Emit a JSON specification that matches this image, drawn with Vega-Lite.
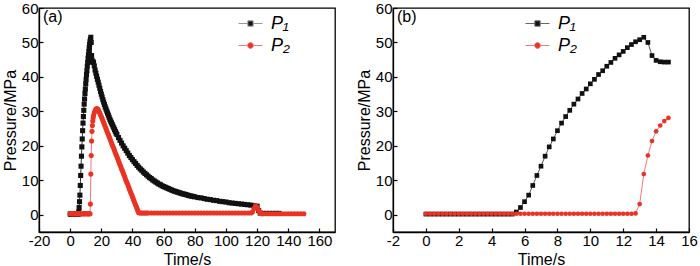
{
"$schema": "https://vega.github.io/schema/vega-lite/v6.json",
"background": "white",
"padding": {"left": 1, "top": 0, "right": 2, "bottom": 0},
"bounds": "flush",
"spacing": 58,
"config": {
  "font": "Liberation Sans",
  "view": {"stroke": "#000", "strokeWidth": 1.3},
  "axis": {"grid": false, "domainColor": "#000", "domainWidth": 1.3, "tickColor": "#000", "tickSize": -4, "tickWidth": 1.2, "labelFont": "Liberation Sans", "labelFontSize": 15, "labelColor": "#000", "labelPadding": 5, "labelOverlap": false, "labelFlush": false, "titleFont": "Liberation Sans", "titleFontSize": 16, "titleFontWeight": "normal", "titleColor": "#000", "titlePadding": 3},
  "legend": {"title": null, "orient": "none", "symbolSize": 576, "symbolStrokeWidth": 1, "symbolOpacity": 1, "labelFont": "Liberation Sans", "labelFontSize": 18, "labelFontStyle": "italic", "labelColor": "#000", "labelOffset": 8, "rowPadding": 0},
  "title": {"anchor": "start", "frame": "group", "font": "Liberation Sans", "fontSize": 16, "fontWeight": "normal", "color": "#000"}
},
"datasets": {
"a": [
{"t":0,"p":0.2,"s":"P1"},{"t":0.5,"p":0.2,"s":"P1"},{"t":1,"p":0.2,"s":"P1"},{"t":1.5,"p":0.2,"s":"P1"},{"t":2,"p":0.2,"s":"P1"},{"t":2.5,"p":0.2,"s":"P1"},{"t":3,"p":0.2,"s":"P1"},{"t":3.5,"p":0.2,"s":"P1"},{"t":4,"p":0.2,"s":"P1"},{"t":4.5,"p":0.2,"s":"P1"},{"t":5,"p":0.2,"s":"P1"},{"t":5.25,"p":0.2,"s":"P1"},
{"t":5.5,"p":0.8,"s":"P1"},{"t":5.75,"p":2.1,"s":"P1"},{"t":6,"p":3.8,"s":"P1"},{"t":6.25,"p":5.7,"s":"P1"},{"t":6.5,"p":8.5,"s":"P1"},{"t":6.75,"p":11.4,"s":"P1"},{"t":7,"p":14.1,"s":"P1"},{"t":7.25,"p":17.0,"s":"P1"},{"t":7.5,"p":19.7,"s":"P1"},{"t":7.75,"p":22.0,"s":"P1"},{"t":8,"p":24.4,"s":"P1"},{"t":8.25,"p":26.6,"s":"P1"},{"t":8.5,"p":28.5,"s":"P1"},{"t":8.75,"p":30.3,"s":"P1"},{"t":9,"p":32.1,"s":"P1"},{"t":9.25,"p":33.6,"s":"P1"},{"t":9.5,"p":35.2,"s":"P1"},{"t":9.75,"p":36.5,"s":"P1"},{"t":10,"p":38.0,"s":"P1"},{"t":10.25,"p":39.3,"s":"P1"},{"t":10.5,"p":40.7,"s":"P1"},{"t":10.75,"p":41.8,"s":"P1"},{"t":11,"p":43.1,"s":"P1"},{"t":11.25,"p":44.2,"s":"P1"},{"t":11.5,"p":45.4,"s":"P1"},{"t":11.75,"p":46.4,"s":"P1"},{"t":12,"p":47.4,"s":"P1"},{"t":12.25,"p":48.5,"s":"P1"},{"t":12.5,"p":49.4,"s":"P1"},{"t":12.75,"p":50.2,"s":"P1"},{"t":13,"p":50.8,"s":"P1"},{"t":13.25,"p":51.5,"s":"P1"},{"t":13.5,"p":50.0,"s":"P1"},{"t":13.75,"p":46.2,"s":"P1"},{"t":14,"p":44.8,"s":"P1"},{"t":14.25,"p":44.4,"s":"P1"},{"t":14.5,"p":44.3,"s":"P1"},{"t":14.75,"p":44.3,"s":"P1"},
{"t":15,"p":44.2,"s":"P1"},{"t":15.5,"p":43.2,"s":"P1"},{"t":16,"p":42.0,"s":"P1"},{"t":16.5,"p":41.1,"s":"P1"},{"t":17,"p":40.2,"s":"P1"},{"t":17.5,"p":39.3,"s":"P1"},{"t":18,"p":38.5,"s":"P1"},{"t":18.5,"p":37.6,"s":"P1"},{"t":19,"p":36.7,"s":"P1"},{"t":19.5,"p":35.8,"s":"P1"},{"t":20,"p":35.0,"s":"P1"},{"t":20.5,"p":34.2,"s":"P1"},{"t":21,"p":33.4,"s":"P1"},{"t":21.5,"p":32.7,"s":"P1"},{"t":22,"p":32.0,"s":"P1"},{"t":22.5,"p":31.3,"s":"P1"},{"t":23,"p":30.7,"s":"P1"},{"t":23.5,"p":30.1,"s":"P1"},{"t":24,"p":29.5,"s":"P1"},{"t":24.5,"p":28.9,"s":"P1"},{"t":25,"p":28.3,"s":"P1"},{"t":25.5,"p":27.7,"s":"P1"},{"t":26,"p":27.2,"s":"P1"},{"t":26.5,"p":26.7,"s":"P1"},{"t":27,"p":26.2,"s":"P1"},{"t":27.5,"p":25.7,"s":"P1"},{"t":28,"p":25.2,"s":"P1"},{"t":28.5,"p":24.7,"s":"P1"},{"t":29,"p":24.2,"s":"P1"},{"t":29.5,"p":23.7,"s":"P1"},{"t":30,"p":23.3,"s":"P1"},{"t":31,"p":22.4,"s":"P1"},{"t":32,"p":21.6,"s":"P1"},{"t":33,"p":20.8,"s":"P1"},{"t":34,"p":20.0,"s":"P1"},{"t":35,"p":19.3,"s":"P1"},{"t":36,"p":18.6,"s":"P1"},{"t":37,"p":17.9,"s":"P1"},{"t":38,"p":17.2,"s":"P1"},{"t":39,"p":16.6,"s":"P1"},{"t":40,"p":16.0,"s":"P1"},{"t":41,"p":15.4,"s":"P1"},{"t":42,"p":14.9,"s":"P1"},{"t":43,"p":14.3,"s":"P1"},{"t":44,"p":13.8,"s":"P1"},{"t":45,"p":13.3,"s":"P1"},{"t":46,"p":12.9,"s":"P1"},{"t":47,"p":12.4,"s":"P1"},{"t":48,"p":12.0,"s":"P1"},{"t":49,"p":11.6,"s":"P1"},{"t":50,"p":11.2,"s":"P1"},{"t":51,"p":10.8,"s":"P1"},{"t":52,"p":10.5,"s":"P1"},{"t":53,"p":10.1,"s":"P1"},{"t":54,"p":9.8,"s":"P1"},{"t":55,"p":9.5,"s":"P1"},{"t":56,"p":9.2,"s":"P1"},{"t":57,"p":8.9,"s":"P1"},{"t":58,"p":8.7,"s":"P1"},{"t":59,"p":8.4,"s":"P1"},{"t":60,"p":8.2,"s":"P1"},
{"t":61,"p":8.0,"s":"P1"},{"t":62,"p":7.8,"s":"P1"},{"t":63,"p":7.6,"s":"P1"},{"t":64,"p":7.4,"s":"P1"},{"t":65,"p":7.2,"s":"P1"},{"t":66,"p":7.0,"s":"P1"},{"t":67,"p":6.85,"s":"P1"},{"t":68,"p":6.7,"s":"P1"},{"t":69,"p":6.55,"s":"P1"},{"t":70,"p":6.4,"s":"P1"},{"t":71,"p":6.25,"s":"P1"},{"t":72,"p":6.1,"s":"P1"},{"t":73,"p":6.0,"s":"P1"},{"t":74,"p":5.9,"s":"P1"},{"t":75,"p":5.75,"s":"P1"},{"t":76,"p":5.6,"s":"P1"},{"t":77,"p":5.5,"s":"P1"},{"t":78,"p":5.4,"s":"P1"},{"t":79,"p":5.3,"s":"P1"},{"t":80,"p":5.2,"s":"P1"},{"t":82,"p":5.0,"s":"P1"},{"t":84,"p":4.9,"s":"P1"},{"t":86,"p":4.7,"s":"P1"},{"t":88,"p":4.5,"s":"P1"},{"t":90,"p":4.4,"s":"P1"},{"t":92,"p":4.2,"s":"P1"},{"t":94,"p":4.1,"s":"P1"},{"t":96,"p":3.9,"s":"P1"},{"t":98,"p":3.8,"s":"P1"},{"t":100,"p":3.7,"s":"P1"},{"t":102,"p":3.5,"s":"P1"},{"t":104,"p":3.4,"s":"P1"},{"t":106,"p":3.3,"s":"P1"},{"t":108,"p":3.2,"s":"P1"},{"t":110,"p":3.1,"s":"P1"},{"t":112,"p":3.0,"s":"P1"},{"t":114,"p":2.9,"s":"P1"},{"t":116,"p":2.8,"s":"P1"},{"t":118,"p":2.6,"s":"P1"},{"t":120,"p":2.5,"s":"P1"},{"t":121,"p":1.2,"s":"P1"},{"t":122,"p":0.5,"s":"P1"},{"t":124,"p":0.4,"s":"P1"},{"t":126,"p":0.4,"s":"P1"},{"t":128,"p":0.4,"s":"P1"},{"t":130,"p":0.4,"s":"P1"},{"t":132,"p":0.4,"s":"P1"},{"t":134,"p":0.4,"s":"P1"},
{"t":0,"p":0.3,"s":"P2"},{"t":0.5,"p":0.3,"s":"P2"},{"t":1,"p":0.3,"s":"P2"},{"t":1.5,"p":0.3,"s":"P2"},{"t":2,"p":0.3,"s":"P2"},{"t":2.5,"p":0.3,"s":"P2"},{"t":3,"p":0.3,"s":"P2"},{"t":3.5,"p":0.3,"s":"P2"},{"t":4,"p":0.3,"s":"P2"},{"t":4.5,"p":0.3,"s":"P2"},{"t":5,"p":0.3,"s":"P2"},{"t":5.5,"p":0.3,"s":"P2"},{"t":6,"p":0.3,"s":"P2"},{"t":6.5,"p":0.3,"s":"P2"},{"t":7,"p":0.3,"s":"P2"},{"t":7.5,"p":0.3,"s":"P2"},{"t":8,"p":0.3,"s":"P2"},{"t":8.5,"p":0.3,"s":"P2"},{"t":9,"p":0.3,"s":"P2"},{"t":9.5,"p":0.3,"s":"P2"},{"t":10,"p":0.3,"s":"P2"},{"t":10.5,"p":0.3,"s":"P2"},{"t":11,"p":0.3,"s":"P2"},{"t":11.5,"p":0.3,"s":"P2"},{"t":12,"p":0.3,"s":"P2"},{"t":12.5,"p":0.3,"s":"P2"},{"t":12.75,"p":0.3,"s":"P2"},
{"t":13,"p":3.1,"s":"P2"},{"t":13.25,"p":11.8,"s":"P2"},{"t":13.5,"p":17.2,"s":"P2"},{"t":13.75,"p":21.4,"s":"P2"},{"t":14,"p":24.2,"s":"P2"},{"t":14.25,"p":25.9,"s":"P2"},{"t":14.5,"p":27.2,"s":"P2"},{"t":14.75,"p":28.1,"s":"P2"},
{"t":15,"p":28.8,"s":"P2"},{"t":15.5,"p":29.6,"s":"P2"},{"t":16,"p":30.2,"s":"P2"},{"t":16.5,"p":30.6,"s":"P2"},{"t":17,"p":30.8,"s":"P2"},{"t":17.5,"p":30.7,"s":"P2"},{"t":18,"p":30.5,"s":"P2"},{"t":18.5,"p":30.0,"s":"P2"},{"t":19,"p":29.5,"s":"P2"},{"t":19.5,"p":29.0,"s":"P2"},{"t":20,"p":28.5,"s":"P2"},{"t":20.5,"p":27.9,"s":"P2"},{"t":21,"p":27.3,"s":"P2"},{"t":21.5,"p":26.8,"s":"P2"},{"t":22,"p":26.2,"s":"P2"},{"t":22.5,"p":25.6,"s":"P2"},{"t":23,"p":25.0,"s":"P2"},{"t":23.5,"p":24.4,"s":"P2"},{"t":24,"p":23.8,"s":"P2"},{"t":24.5,"p":23.3,"s":"P2"},{"t":25,"p":22.7,"s":"P2"},{"t":25.5,"p":22.1,"s":"P2"},{"t":26,"p":21.5,"s":"P2"},{"t":26.5,"p":20.9,"s":"P2"},{"t":27,"p":20.3,"s":"P2"},{"t":27.5,"p":19.8,"s":"P2"},{"t":28,"p":19.2,"s":"P2"},{"t":28.5,"p":18.6,"s":"P2"},{"t":29,"p":18.0,"s":"P2"},{"t":29.5,"p":17.4,"s":"P2"},{"t":30,"p":16.8,"s":"P2"},{"t":30.5,"p":16.3,"s":"P2"},{"t":31,"p":15.7,"s":"P2"},{"t":31.5,"p":15.1,"s":"P2"},{"t":32,"p":14.5,"s":"P2"},{"t":32.5,"p":13.9,"s":"P2"},{"t":33,"p":13.3,"s":"P2"},{"t":33.5,"p":12.8,"s":"P2"},{"t":34,"p":12.2,"s":"P2"},{"t":34.5,"p":11.6,"s":"P2"},{"t":35,"p":11.0,"s":"P2"},{"t":35.5,"p":10.4,"s":"P2"},{"t":36,"p":9.8,"s":"P2"},{"t":36.5,"p":9.3,"s":"P2"},{"t":37,"p":8.7,"s":"P2"},{"t":37.5,"p":8.1,"s":"P2"},{"t":38,"p":7.5,"s":"P2"},{"t":38.5,"p":6.9,"s":"P2"},{"t":39,"p":6.3,"s":"P2"},{"t":39.5,"p":5.8,"s":"P2"},{"t":40,"p":5.2,"s":"P2"},{"t":40.5,"p":4.6,"s":"P2"},{"t":41,"p":4.0,"s":"P2"},{"t":41.5,"p":3.4,"s":"P2"},{"t":42,"p":2.8,"s":"P2"},{"t":42.5,"p":2.3,"s":"P2"},{"t":43,"p":1.7,"s":"P2"},{"t":43.5,"p":1.1,"s":"P2"},{"t":44,"p":0.6,"s":"P2"},{"t":45,"p":0.5,"s":"P2"},
{"t":46,"p":0.5,"s":"P2"},{"t":47,"p":0.5,"s":"P2"},{"t":48,"p":0.5,"s":"P2"},{"t":49,"p":0.5,"s":"P2"},{"t":50,"p":0.5,"s":"P2"},{"t":52,"p":0.5,"s":"P2"},{"t":54,"p":0.5,"s":"P2"},{"t":56,"p":0.5,"s":"P2"},{"t":58,"p":0.5,"s":"P2"},{"t":60,"p":0.5,"s":"P2"},{"t":62,"p":0.5,"s":"P2"},{"t":64,"p":0.5,"s":"P2"},{"t":66,"p":0.5,"s":"P2"},{"t":68,"p":0.5,"s":"P2"},{"t":70,"p":0.5,"s":"P2"},{"t":72,"p":0.5,"s":"P2"},{"t":74,"p":0.5,"s":"P2"},{"t":76,"p":0.5,"s":"P2"},{"t":78,"p":0.5,"s":"P2"},{"t":80,"p":0.5,"s":"P2"},{"t":82,"p":0.5,"s":"P2"},{"t":84,"p":0.5,"s":"P2"},{"t":86,"p":0.5,"s":"P2"},{"t":88,"p":0.5,"s":"P2"},{"t":90,"p":0.5,"s":"P2"},{"t":92,"p":0.5,"s":"P2"},{"t":94,"p":0.5,"s":"P2"},{"t":96,"p":0.5,"s":"P2"},{"t":98,"p":0.5,"s":"P2"},{"t":100,"p":0.5,"s":"P2"},{"t":102,"p":0.5,"s":"P2"},{"t":104,"p":0.5,"s":"P2"},{"t":106,"p":0.5,"s":"P2"},{"t":108,"p":0.5,"s":"P2"},{"t":110,"p":0.5,"s":"P2"},{"t":112,"p":0.5,"s":"P2"},{"t":114,"p":0.5,"s":"P2"},{"t":116,"p":0.5,"s":"P2"},{"t":117,"p":0.8,"s":"P2"},{"t":118,"p":1.8,"s":"P2"},{"t":119,"p":2.5,"s":"P2"},{"t":120,"p":2.2,"s":"P2"},{"t":121,"p":1.2,"s":"P2"},{"t":122,"p":0.5,"s":"P2"},{"t":123,"p":0.3,"s":"P2"},
{"t":124,"p":0.3,"s":"P2"},{"t":126,"p":0.3,"s":"P2"},{"t":128,"p":0.3,"s":"P2"},{"t":130,"p":0.3,"s":"P2"},{"t":132,"p":0.3,"s":"P2"},{"t":134,"p":0.3,"s":"P2"},{"t":136,"p":0.3,"s":"P2"},{"t":138,"p":0.3,"s":"P2"},{"t":140,"p":0.3,"s":"P2"},{"t":142,"p":0.3,"s":"P2"},{"t":144,"p":0.3,"s":"P2"},{"t":146,"p":0.3,"s":"P2"},{"t":148,"p":0.3,"s":"P2"},{"t":150,"p":0.3,"s":"P2"}
],
"b": [
{"t":0,"p":0.2,"s":"P1"},{"t":0.25,"p":0.2,"s":"P1"},{"t":0.5,"p":0.2,"s":"P1"},{"t":0.75,"p":0.2,"s":"P1"},{"t":1,"p":0.2,"s":"P1"},{"t":1.25,"p":0.2,"s":"P1"},{"t":1.5,"p":0.2,"s":"P1"},{"t":1.75,"p":0.2,"s":"P1"},{"t":2,"p":0.2,"s":"P1"},{"t":2.25,"p":0.2,"s":"P1"},{"t":2.5,"p":0.2,"s":"P1"},{"t":2.75,"p":0.2,"s":"P1"},{"t":3,"p":0.2,"s":"P1"},{"t":3.25,"p":0.2,"s":"P1"},{"t":3.5,"p":0.2,"s":"P1"},{"t":3.75,"p":0.2,"s":"P1"},{"t":4,"p":0.2,"s":"P1"},{"t":4.25,"p":0.2,"s":"P1"},{"t":4.5,"p":0.2,"s":"P1"},{"t":4.75,"p":0.2,"s":"P1"},{"t":5,"p":0.2,"s":"P1"},{"t":5.25,"p":0.2,"s":"P1"},
{"t":5.5,"p":0.8,"s":"P1"},{"t":5.75,"p":2.1,"s":"P1"},{"t":6,"p":3.8,"s":"P1"},{"t":6.25,"p":5.7,"s":"P1"},{"t":6.5,"p":8.5,"s":"P1"},{"t":6.75,"p":11.4,"s":"P1"},{"t":7,"p":14.1,"s":"P1"},{"t":7.25,"p":17.0,"s":"P1"},{"t":7.5,"p":19.7,"s":"P1"},{"t":7.75,"p":22.0,"s":"P1"},{"t":8,"p":24.4,"s":"P1"},{"t":8.25,"p":26.6,"s":"P1"},{"t":8.5,"p":28.5,"s":"P1"},{"t":8.75,"p":30.3,"s":"P1"},{"t":9,"p":32.1,"s":"P1"},{"t":9.25,"p":33.6,"s":"P1"},{"t":9.5,"p":35.2,"s":"P1"},{"t":9.75,"p":36.5,"s":"P1"},{"t":10,"p":38.0,"s":"P1"},{"t":10.25,"p":39.3,"s":"P1"},{"t":10.5,"p":40.7,"s":"P1"},{"t":10.75,"p":41.8,"s":"P1"},{"t":11,"p":43.1,"s":"P1"},{"t":11.25,"p":44.2,"s":"P1"},{"t":11.5,"p":45.4,"s":"P1"},{"t":11.75,"p":46.4,"s":"P1"},{"t":12,"p":47.4,"s":"P1"},{"t":12.25,"p":48.5,"s":"P1"},{"t":12.5,"p":49.4,"s":"P1"},{"t":12.75,"p":50.2,"s":"P1"},{"t":13,"p":50.8,"s":"P1"},{"t":13.25,"p":51.5,"s":"P1"},{"t":13.5,"p":50.0,"s":"P1"},{"t":13.75,"p":46.2,"s":"P1"},{"t":14,"p":44.8,"s":"P1"},{"t":14.25,"p":44.4,"s":"P1"},{"t":14.5,"p":44.3,"s":"P1"},{"t":14.75,"p":44.3,"s":"P1"},
{"t":0,"p":0.3,"s":"P2"},{"t":0.25,"p":0.3,"s":"P2"},{"t":0.5,"p":0.3,"s":"P2"},{"t":0.75,"p":0.3,"s":"P2"},{"t":1,"p":0.3,"s":"P2"},{"t":1.25,"p":0.3,"s":"P2"},{"t":1.5,"p":0.3,"s":"P2"},{"t":1.75,"p":0.3,"s":"P2"},{"t":2,"p":0.3,"s":"P2"},{"t":2.25,"p":0.3,"s":"P2"},{"t":2.5,"p":0.3,"s":"P2"},{"t":2.75,"p":0.3,"s":"P2"},{"t":3,"p":0.3,"s":"P2"},{"t":3.25,"p":0.3,"s":"P2"},{"t":3.5,"p":0.3,"s":"P2"},{"t":3.75,"p":0.3,"s":"P2"},{"t":4,"p":0.3,"s":"P2"},{"t":4.25,"p":0.3,"s":"P2"},{"t":4.5,"p":0.3,"s":"P2"},{"t":4.75,"p":0.3,"s":"P2"},{"t":5,"p":0.3,"s":"P2"},{"t":5.25,"p":0.3,"s":"P2"},{"t":5.5,"p":0.3,"s":"P2"},{"t":5.75,"p":0.3,"s":"P2"},{"t":6,"p":0.3,"s":"P2"},{"t":6.25,"p":0.3,"s":"P2"},{"t":6.5,"p":0.3,"s":"P2"},{"t":6.75,"p":0.3,"s":"P2"},{"t":7,"p":0.3,"s":"P2"},{"t":7.25,"p":0.3,"s":"P2"},{"t":7.5,"p":0.3,"s":"P2"},{"t":7.75,"p":0.3,"s":"P2"},{"t":8,"p":0.3,"s":"P2"},{"t":8.25,"p":0.3,"s":"P2"},{"t":8.5,"p":0.3,"s":"P2"},{"t":8.75,"p":0.3,"s":"P2"},{"t":9,"p":0.3,"s":"P2"},{"t":9.25,"p":0.3,"s":"P2"},{"t":9.5,"p":0.3,"s":"P2"},{"t":9.75,"p":0.3,"s":"P2"},{"t":10,"p":0.3,"s":"P2"},{"t":10.25,"p":0.3,"s":"P2"},{"t":10.5,"p":0.3,"s":"P2"},{"t":10.75,"p":0.3,"s":"P2"},{"t":11,"p":0.3,"s":"P2"},{"t":11.25,"p":0.3,"s":"P2"},{"t":11.5,"p":0.3,"s":"P2"},{"t":11.75,"p":0.3,"s":"P2"},{"t":12,"p":0.3,"s":"P2"},{"t":12.25,"p":0.3,"s":"P2"},{"t":12.5,"p":0.3,"s":"P2"},{"t":12.75,"p":0.4,"s":"P2"},
{"t":13,"p":3.1,"s":"P2"},{"t":13.25,"p":11.8,"s":"P2"},{"t":13.5,"p":17.2,"s":"P2"},{"t":13.75,"p":21.4,"s":"P2"},{"t":14,"p":24.2,"s":"P2"},{"t":14.25,"p":25.9,"s":"P2"},{"t":14.5,"p":27.2,"s":"P2"},{"t":14.75,"p":28.1,"s":"P2"}
]
},
"hconcat": [
{
  "width": 296, "height": 224,
  "title": {"text": "(a)", "offset": -24, "dx": 4},
  "data": {"name": "a"},
  "encoding": {
    "x": {"field": "t", "type": "quantitative", "scale": {"domain": [-20, 170], "nice": false, "zero": false}, "axis": {"values": [-20, 0, 20, 40, 60, 80, 100, 120, 140, 160], "title": "Time/s", "labelExpr": "'' + datum.value"}},
    "y": {"field": "p", "type": "quantitative", "scale": {"domain": [-5, 60], "nice": false, "zero": false}, "axis": {"values": [0, 10, 20, 30, 40, 50, 60], "title": "Pressure/MPa"}}
  },
  "layer": [
    {"mark": {"type": "line", "strokeWidth": 1},
     "encoding": {
       "stroke": {"field": "s", "type": "nominal", "scale": {"domain": ["P1", "P2"], "range": ["#333333", "#f07a7a"]}, "legend": null}}},
    {"mark": {"type": "point", "filled": true, "size": 26, "opacity": 1},
     "encoding": {
       "fill": {"field": "s", "type": "nominal", "scale": {"domain": ["P1", "P2"], "range": ["#111111", "#ea3323"]}, "legend": null},
       "shape": {"field": "s", "type": "nominal", "scale": {"domain": ["P1", "P2"], "range": ["square", "circle"]}, "legend": null}}},
    {"data": {"values": [{"s": "P1", "t": 0, "p": 0}, {"s": "P2", "t": 0, "p": 0}]},
     "transform": [{"filter": "false"}],
     "mark": {"type": "point", "filled": true, "opacity": 1},
     "encoding": {
       "fill": {"field": "s", "type": "nominal", "scale": {"domain": ["P1", "P2"], "range": ["#111111", "#ea3323"]}},
       "stroke": {"field": "s", "type": "nominal", "scale": {"domain": ["P1", "P2"], "range": ["#999999", "#f07a7a"]}},
       "shape": {"field": "s", "type": "nominal", "scale": {"domain": ["P1", "P2"], "range": ["M-1,0H-0.22M0.22,0H1M-0.22,-0.22H0.22V0.22H-0.22Z", "M-1,0H-0.24M0.24,0H1M0.24,0A0.24,0.24,0,1,1,-0.24,0A0.24,0.24,0,1,1,0.24,0Z"]}, "legend": {"legendX": 199, "legendY": 3, "labelExpr": "datum.label == 'P1' ? 'P₁' : 'P₂'"}}}}
  ],
  "resolve": {"scale": {"fill": "independent", "stroke": "independent", "shape": "independent"}}
},
{
  "width": 296, "height": 224,
  "title": {"text": "(b)", "offset": -24, "dx": 4},
  "data": {"name": "b"},
  "encoding": {
    "x": {"field": "t", "type": "quantitative", "scale": {"domain": [-2, 16], "nice": false, "zero": false}, "axis": {"values": [-2, 0, 2, 4, 6, 8, 10, 12, 14, 16], "title": "Time/s", "labelExpr": "'' + datum.value"}},
    "y": {"field": "p", "type": "quantitative", "scale": {"domain": [-5, 60], "nice": false, "zero": false}, "axis": {"values": [0, 10, 20, 30, 40, 50, 60], "title": "Pressure/MPa"}}
  },
  "layer": [
    {"mark": {"type": "line", "strokeWidth": 1},
     "encoding": {
       "stroke": {"field": "s", "type": "nominal", "scale": {"domain": ["P1", "P2"], "range": ["#555555", "#f07a7a"]}, "legend": null}}},
    {"mark": {"type": "point", "filled": true, "size": 22, "opacity": 1},
     "encoding": {
       "fill": {"field": "s", "type": "nominal", "scale": {"domain": ["P1", "P2"], "range": ["#111111", "#ea3323"]}, "legend": null},
       "shape": {"field": "s", "type": "nominal", "scale": {"domain": ["P1", "P2"], "range": ["square", "circle"]}, "legend": null}}},
    {"data": {"values": [{"s": "P1", "t": 0, "p": 0}, {"s": "P2", "t": 0, "p": 0}]},
     "transform": [{"filter": "false"}],
     "mark": {"type": "point", "filled": true, "opacity": 1},
     "encoding": {
       "fill": {"field": "s", "type": "nominal", "scale": {"domain": ["P1", "P2"], "range": ["#111111", "#ea3323"]}},
       "stroke": {"field": "s", "type": "nominal", "scale": {"domain": ["P1", "P2"], "range": ["#666666", "#f07a7a"]}},
       "shape": {"field": "s", "type": "nominal", "scale": {"domain": ["P1", "P2"], "range": ["M-1,0H-0.22M0.22,0H1M-0.22,-0.22H0.22V0.22H-0.22Z", "M-1,0H-0.24M0.24,0H1M0.24,0A0.24,0.24,0,1,1,-0.24,0A0.24,0.24,0,1,1,0.24,0Z"]}, "legend": {"legendX": 132, "legendY": 3, "labelExpr": "datum.label == 'P1' ? 'P₁' : 'P₂'"}}}}
  ],
  "resolve": {"scale": {"fill": "independent", "stroke": "independent", "shape": "independent"}}
}
]
}
